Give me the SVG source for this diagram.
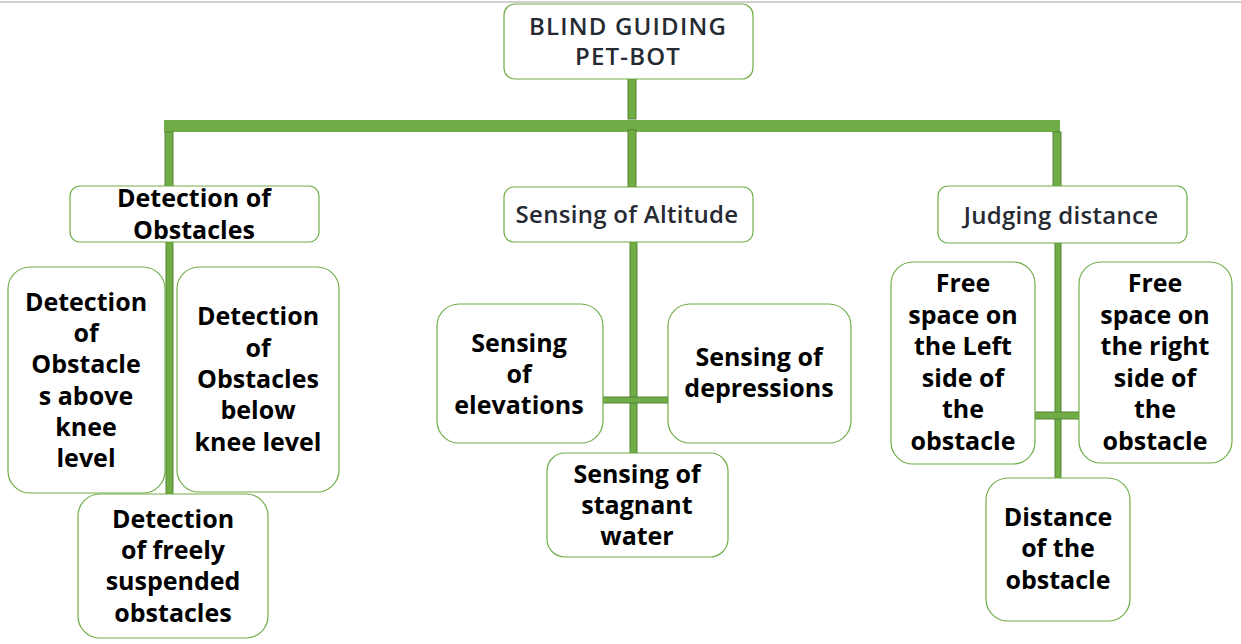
<svg xmlns="http://www.w3.org/2000/svg" width="1241" height="644" viewBox="0 0 1241 644">
<style>
.box{fill:#fff;stroke:#70ad47;stroke-width:1.2}
.stem{fill:#70ad47;stroke:#548235;stroke-width:1}
.bar{fill:#70ad47}
.t{font-family:"Open Sans","DejaVu Sans",sans-serif;font-weight:700;font-size:25px;fill:#000;text-anchor:middle}
.g{font-family:"Open Sans","DejaVu Sans",sans-serif;font-weight:600;font-size:24px;fill:#262a33;text-anchor:middle}
</style>
<rect x="0" y="0" width="1241" height="644" fill="#fff"/>
<line x1="0" y1="2" x2="1241" y2="2" stroke="#d0d0d0" stroke-width="2"/>
<g id="connectors">
<rect class="stem" x="628" y="79" width="8" height="40"/>
<rect class="bar" x="164" y="120" width="896" height="12"/>
<rect class="stem" x="165" y="132" width="8" height="56"/>
<rect class="stem" x="628" y="130" width="8" height="57"/>
<rect class="stem" x="1053" y="132" width="8" height="56"/>
<rect class="stem" x="166" y="242" width="7" height="252"/>
<rect class="stem" x="630" y="242" width="7" height="211"/>
<rect class="stem" x="602" y="397" width="66" height="6"/>
<rect class="stem" x="1055" y="243" width="6" height="235"/>
<rect class="stem" x="1035" y="412" width="44" height="7"/>
</g>
<g id="root">
<rect class="box" x="504" y="4" width="249" height="75" rx="11"/>
<text class="g" x="628" y="34.5" letter-spacing="1.2">BLIND GUIDING</text>
<text class="g" x="628" y="65" letter-spacing="1.2">PET-BOT</text>
</g>
<g id="detection">
<rect class="box" x="70" y="186" width="249" height="56" rx="10"/>
<text class="t" x="194" y="207" font-weight="600">Detection of</text>
<text class="t" x="194" y="239" font-weight="600">Obstacles</text>
</g>
<g id="altitude">
<rect class="box" x="504" y="187" width="249" height="55" rx="10"/>
<text class="g" x="627" y="223" letter-spacing="0.3">Sensing of Altitude</text>
</g>
<g id="judging">
<rect class="box" x="938" y="186" width="249" height="57" rx="10"/>
<text class="g" x="1061" y="224" letter-spacing="0.3">Judging distance</text>
</g>
<g id="above-knee">
<rect class="box" x="8" y="267" width="157" height="226" rx="22"/>
<text class="t" x="86" y="311">Detection</text>
<text class="t" x="86" y="342">of</text>
<text class="t" x="86" y="373">Obstacle</text>
<text class="t" x="86" y="405">s above</text>
<text class="t" x="86" y="436">knee</text>
<text class="t" x="86" y="467">level</text>
</g>
<g id="below-knee">
<rect class="box" x="177" y="267" width="162" height="225" rx="22"/>
<text class="t" x="258" y="325">Detection</text>
<text class="t" x="258" y="357">of</text>
<text class="t" x="258" y="388">Obstacles</text>
<text class="t" x="258" y="419">below</text>
<text class="t" x="258" y="451">knee level</text>
</g>
<g id="suspended">
<rect class="box" x="78" y="494" width="190" height="144" rx="22"/>
<text class="t" x="173" y="528">Detection</text>
<text class="t" x="173" y="559">of freely</text>
<text class="t" x="173" y="590">suspended</text>
<text class="t" x="173" y="622">obstacles</text>
</g>
<g id="elevations">
<rect class="box" x="437" y="304" width="166" height="139" rx="22"/>
<text class="t" x="519" y="352">Sensing</text>
<text class="t" x="519" y="383">of</text>
<text class="t" x="519" y="414">elevations</text>
</g>
<g id="depressions">
<rect class="box" x="668" y="304" width="183" height="139" rx="22"/>
<text class="t" x="759" y="366">Sensing of</text>
<text class="t" x="759" y="397">depressions</text>
</g>
<g id="stagnant">
<rect class="box" x="547" y="453" width="181" height="104" rx="18"/>
<text class="t" x="637" y="483">Sensing of</text>
<text class="t" x="637" y="514">stagnant</text>
<text class="t" x="637" y="545">water</text>
</g>
<g id="free-left">
<rect class="box" x="891" y="262" width="144" height="202" rx="22"/>
<text class="t" x="963" y="292">Free</text>
<text class="t" x="963" y="324">space on</text>
<text class="t" x="963" y="355">the Left</text>
<text class="t" x="963" y="387">side of</text>
<text class="t" x="963" y="418">the</text>
<text class="t" x="963" y="450">obstacle</text>
</g>
<g id="free-right">
<rect class="box" x="1079" y="262" width="153" height="201" rx="22"/>
<text class="t" x="1155" y="292">Free</text>
<text class="t" x="1155" y="324">space on</text>
<text class="t" x="1155" y="355">the right</text>
<text class="t" x="1155" y="387">side of</text>
<text class="t" x="1155" y="418">the</text>
<text class="t" x="1155" y="450">obstacle</text>
</g>
<g id="distance">
<rect class="box" x="986" y="478" width="144" height="143" rx="22"/>
<text class="t" x="1058" y="526">Distance</text>
<text class="t" x="1058" y="557">of the</text>
<text class="t" x="1058" y="589">obstacle</text>
</g>
</svg>
